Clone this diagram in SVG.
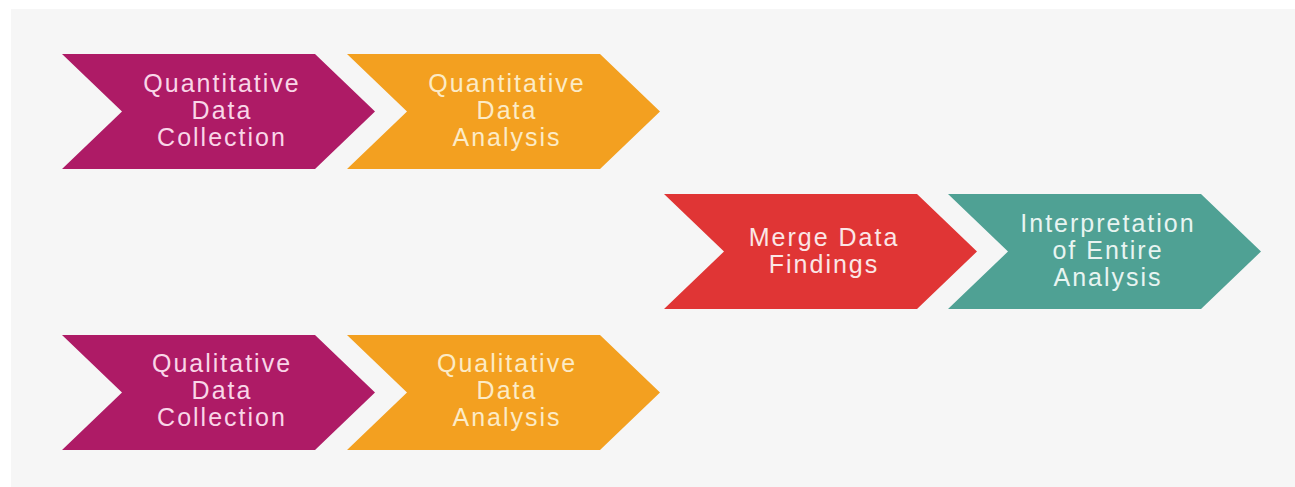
<svg xmlns="http://www.w3.org/2000/svg" width="1295" height="487" viewBox="0 0 1295 487">
<style>
text{font-family:"Liberation Sans",Arial,sans-serif;font-size:25px;letter-spacing:2px;text-anchor:middle}
.mag{fill:#AE1B66}.org{fill:#F3A020}.red{fill:#E03535}.teal{fill:#4FA194}
.tm{fill:#F9D6E8}.to{fill:#FCEBC6}.tr{fill:#FBE6E6}.tt{fill:#E8F4F1}
</style>
<defs>
<polygon id="chev" points="0,0 253,0 313,57.5 253,115 0,115 60,57.5"/>
</defs>
<rect width="1295" height="487" fill="#FFFFFF"/>
<rect x="11" y="9" width="1284" height="478" fill="#F6F6F6"/>
<g id="connectors"></g>
<g id="quant-collection">
<use href="#chev" x="62" y="54" class="mag"/>
<text x="222" y="92" class="tm">Quantitative</text>
<text x="222" y="119" class="tm">Data</text>
<text x="222" y="146" class="tm">Collection</text>
</g>
<g id="quant-analysis">
<use href="#chev" x="347" y="54" class="org"/>
<text x="507" y="92" class="to">Quantitative</text>
<text x="507" y="119" class="to">Data</text>
<text x="507" y="146" class="to">Analysis</text>
</g>
<g id="merge">
<use href="#chev" x="664" y="194" class="red"/>
<text x="824" y="246" class="tr">Merge Data</text>
<text x="824" y="273" class="tr">Findings</text>
</g>
<g id="interpretation">
<use href="#chev" x="948" y="194" class="teal"/>
<text x="1108" y="232" class="tt">Interpretation</text>
<text x="1108" y="259" class="tt">of Entire</text>
<text x="1108" y="286" class="tt">Analysis</text>
</g>
<g id="qual-collection">
<use href="#chev" x="62" y="335" class="mag"/>
<text x="222" y="372" class="tm">Qualitative</text>
<text x="222" y="399" class="tm">Data</text>
<text x="222" y="426" class="tm">Collection</text>
</g>
<g id="qual-analysis">
<use href="#chev" x="347" y="335" class="org"/>
<text x="507" y="372" class="to">Qualitative</text>
<text x="507" y="399" class="to">Data</text>
<text x="507" y="426" class="to">Analysis</text>
</g>
</svg>
